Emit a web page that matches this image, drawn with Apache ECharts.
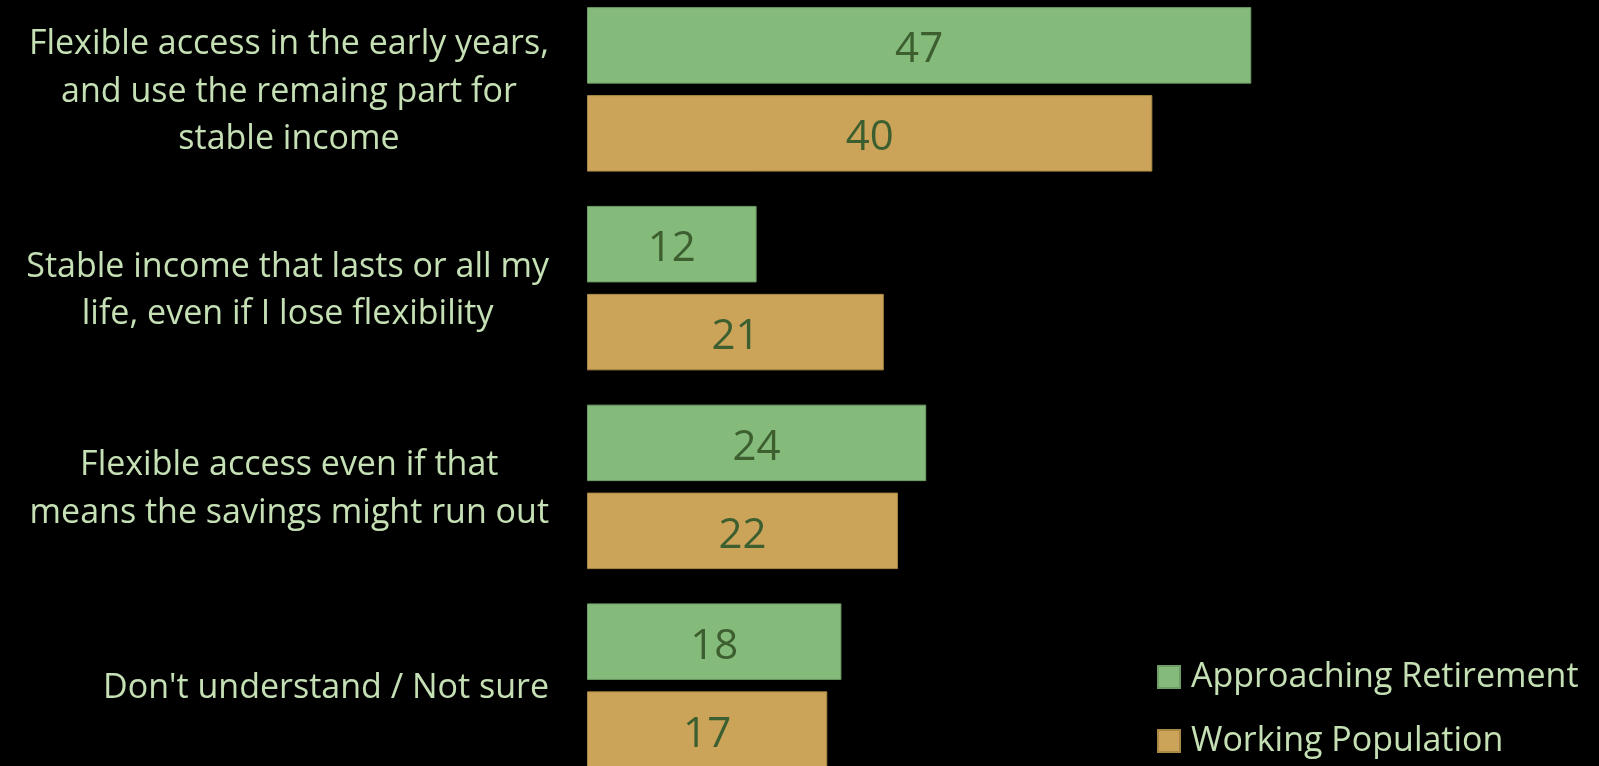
<!DOCTYPE html>
<html>
<head>
<meta charset="utf-8">
<style>
  html, body { margin: 0; padding: 0; background: #000; }
  #chart { width: 1599px; height: 766px; }
</style>
<script src="https://cdn.jsdelivr.net/npm/echarts@6/dist/echarts.min.js"></script>
</head>
<body>
<div id="chart"></div>
<script>
// Survey answers: how people would like to draw on their retirement savings (%)
const categories = [
  'Flexible access in the early years,\nand use the remaing part for\nstable income',
  'Stable income that lasts or all my\nlife, even if I lose flexibility',
  'Flexible access even if that\nmeans the savings might run out',
  "Don't understand / Not sure"
];
const seriesNames = ['Approaching Retirement', 'Working Population'];
const approachingRetirement = [47, 12, 24, 18];
const workingPopulation = [40, 21, 22, 17];

const FONT = '"Open Sans", "Noto Sans", sans-serif';
const TEXT_COLOR = '#c5e0b4';
const VALUE_COLOR = '#3d5f30';
const GREEN = '#84ba7a';
const GOLD = '#cba45a';

const chart = echarts.init(document.getElementById('chart'), null, { renderer: 'canvas' });

function barSeries(name, data, color, border) {
  return {
    name: name,
    type: 'bar',
    data: data,
    barWidth: 76.5,
    barGap: '15%',
    itemStyle: { color: color, borderColor: border, borderWidth: 1 },
    label: {
      show: true,
      position: 'inside',
      offset: [0, 5],
      color: VALUE_COLOR,
      fontFamily: FONT,
      fontSize: 42
    },
    emphasis: { disabled: true }
  };
}

chart.setOption({
  backgroundColor: '#000',
  animation: false,
  grid: {
    left: 587,
    right: 164,
    top: -10,
    height: 795,
    containLabel: false,
    outerBoundsMode: 'none'
  },
  xAxis: {
    type: 'value',
    min: 0,
    max: 60,
    show: false
  },
  yAxis: {
    type: 'category',
    data: categories,
    inverse: true,
    axisLine: { show: false },
    axisTick: { show: false },
    splitLine: { show: false },
    axisLabel: {
      margin: 38,
      padding: [5, 0, 0, 0],
      formatter: function (v) {
        return v.split('\n').map(function (line) { return '{c|' + line + '}'; }).join('\n');
      },
      rich: {
        c: {
          align: 'center',
          color: TEXT_COLOR,
          fontFamily: FONT,
          fontSize: 34,
          lineHeight: 47.5
        }
      }
    }
  },
  legend: {
    data: seriesNames,
    orient: 'vertical',
    left: 1152,
    top: 655,
    height: 200,
    icon: 'rect',
    itemWidth: 22,
    itemHeight: 22,
    itemGap: 30,
    selectedMode: false,
    textStyle: {
      color: TEXT_COLOR,
      fontFamily: FONT,
      fontSize: 34,
      lineHeight: 22,
      padding: [0, 0, 0, 6]
    }
  },
  series: [
    barSeries(seriesNames[0], approachingRetirement, GREEN, '#6e9d65'),
    barSeries(seriesNames[1], workingPopulation, GOLD, '#a98845')
  ]
});
</script>
</body>
</html>
